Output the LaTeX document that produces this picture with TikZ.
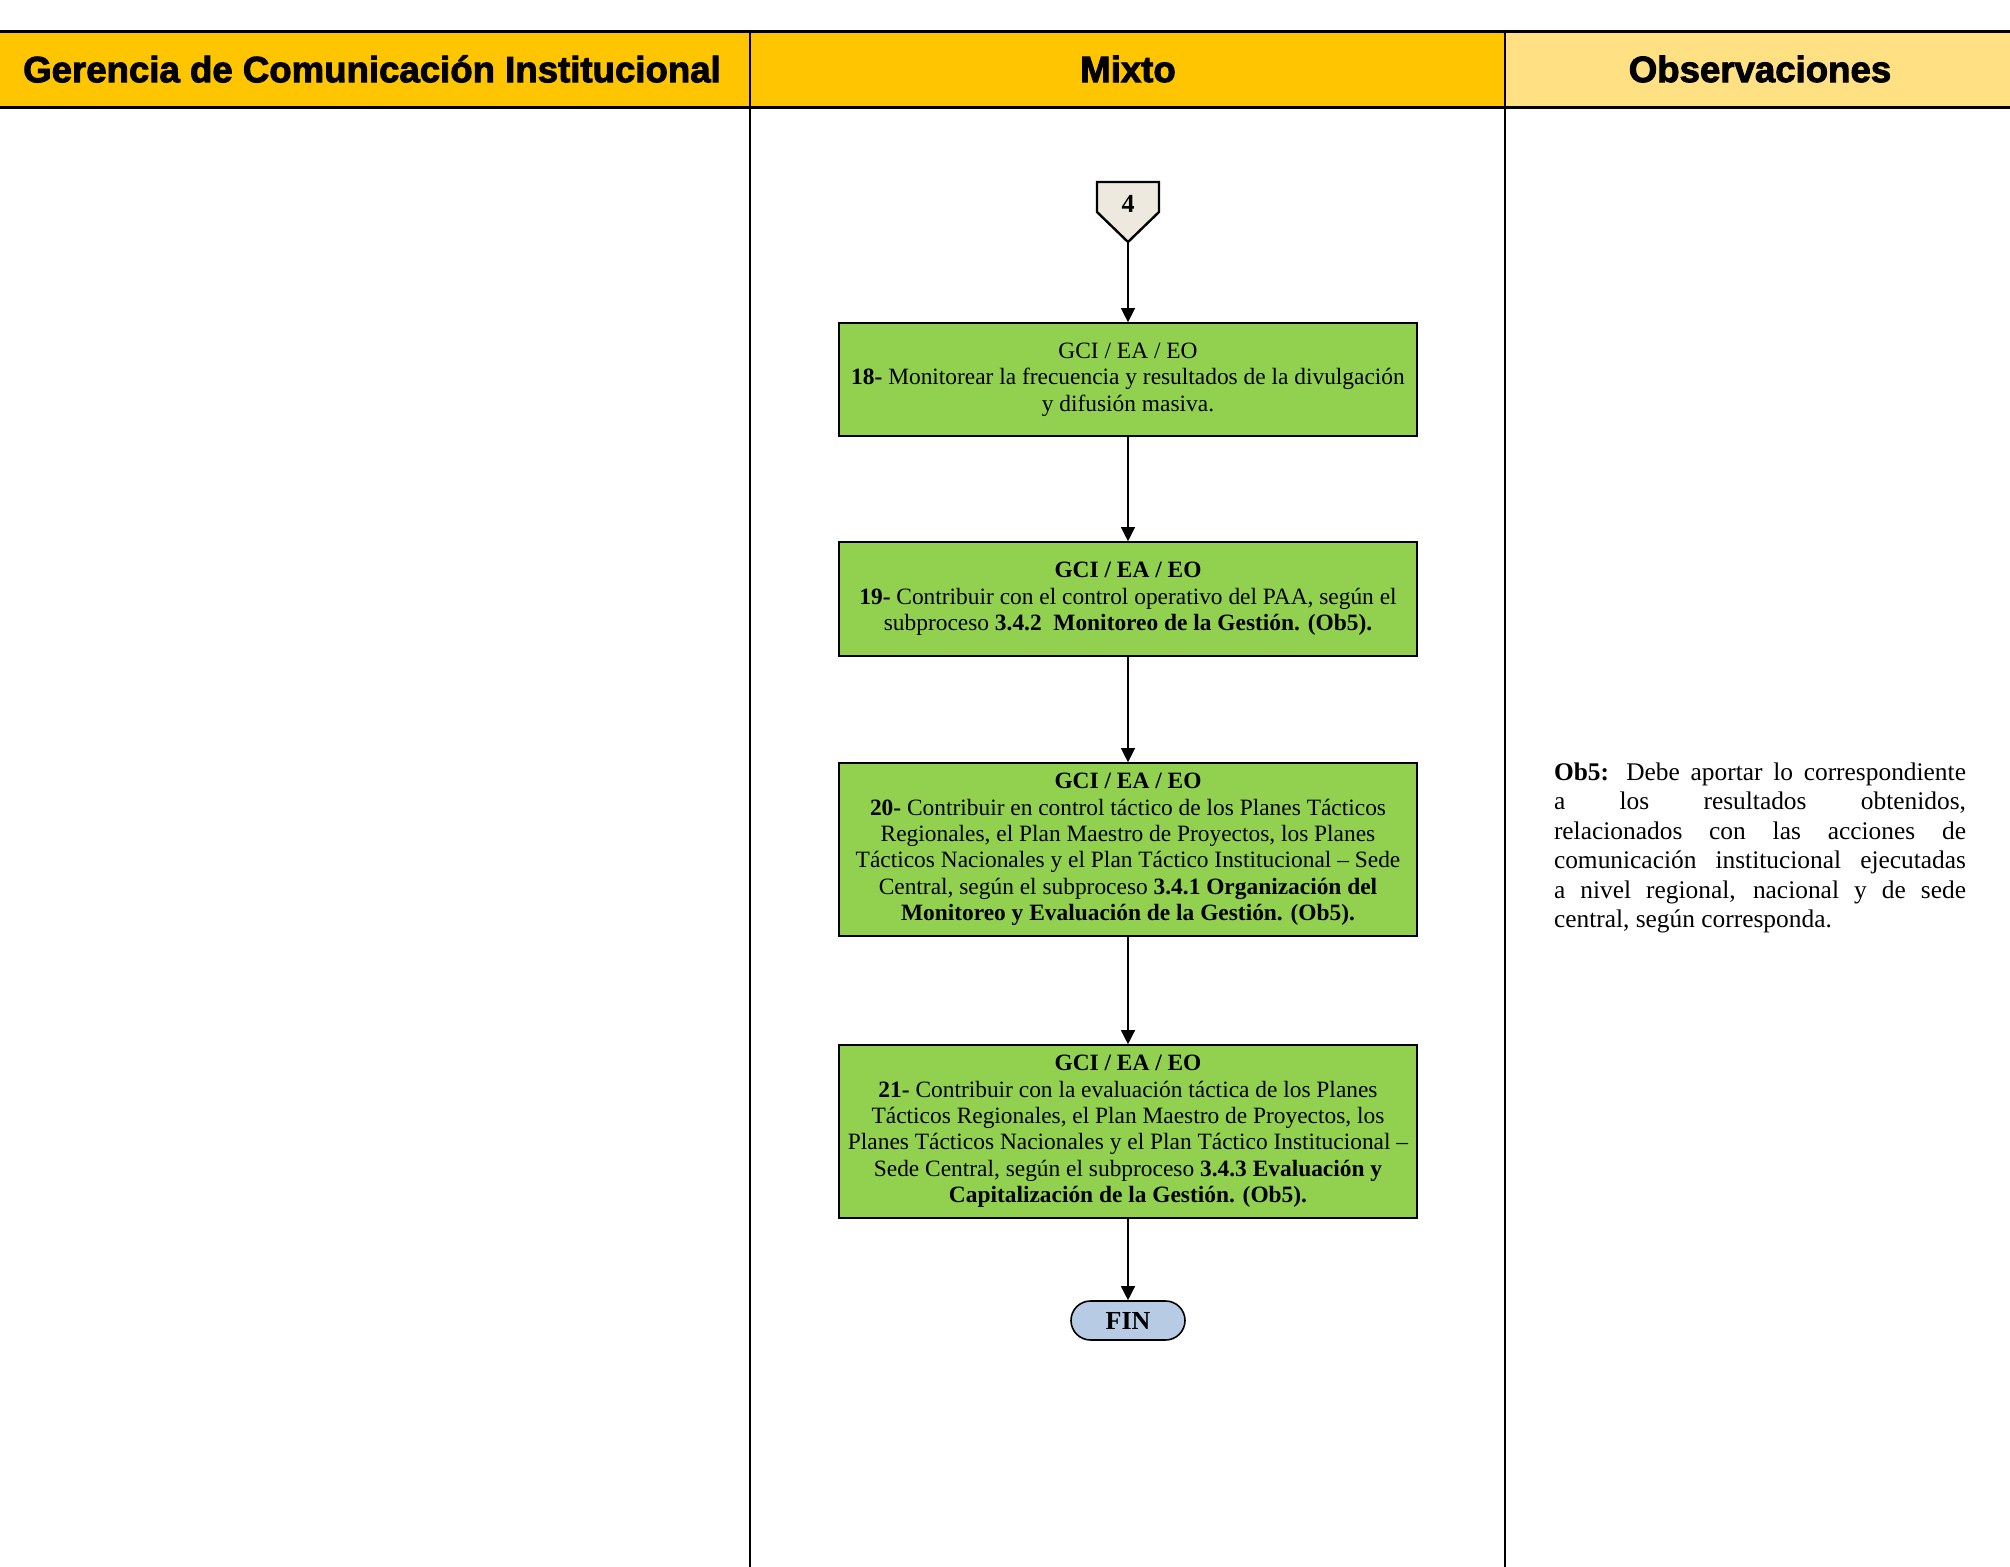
\documentclass[tikz,border=0pt]{standalone}
\usepackage{fontspec}
\setmainfont{Liberation Serif}
\newfontfamily\headfont[BoldFeatures={FakeBold=2.5}]{Liberation Sans}
\usetikzlibrary{arrows.meta}

\definecolor{laneyellow}{HTML}{FFC600}
\definecolor{obsyellow}{HTML}{FFE183}
\definecolor{actgreen}{HTML}{92D050}
\definecolor{connbeige}{HTML}{EEE9DE}
\definecolor{endblue}{HTML}{B7CCE4}

\tikzset{
  lanehead/.style={font=\headfont\bfseries\fontsize{18.3}{21}\selectfont},
  actbox/.style={draw=black,line width=0.8pt,fill=actgreen,minimum width=289pt,
    align=center,inner sep=0pt,font=\fontsize{11.7}{13.2}\selectfont},
  flow/.style={-{Triangle[length=7pt,width=7pt]},line width=0.6pt},
}

\begin{document}
\begin{tikzpicture}[x=0.5pt,y=-0.5pt]
  \useasboundingbox (0,0) rectangle (2010,1567);
  \pgfmathsetmacro\laneA{750}
  \pgfmathsetmacro\laneB{1505}
  \pgfmathsetmacro\midx{1128}
  % lane headers
  \fill[laneyellow] (0,32) rectangle (\laneB,108);
  \fill[obsyellow] (\laneB,32) rectangle (2010,108);
  \draw[line width=1.5pt] (0,32) -- (2010,32);
  \draw[line width=1.5pt] (0,108) -- (2010,108);
  \draw[line width=1.2pt] (\laneA,32) -- (\laneA,1567);
  \draw[line width=1.2pt] (\laneB,32) -- (\laneB,1567);
  \node[lanehead] (hgci) at (372,69) {Gerencia de Comunicación Institucional};
  \node[lanehead] (hmix) at (\midx,69) {Mixto};
  \node[lanehead] (hobs) at (1760,69) {Observaciones};
  % connector 4
  \filldraw[fill=connbeige,line width=1.2pt]
    (1097,182) -- (1159,182) -- (1159,212) -- (\midx,242) -- (1097,212) -- cycle;
  \node[font=\bfseries\fontsize{13}{15}\selectfont] (c4) at (\midx,204) {4};
  \coordinate (c4tip) at (\midx,242);
  % activities
  \node[actbox,minimum height=56.5pt] (t18) at (\midx,379.5)
    {GCI / EA / EO\\
     \textbf{18-} Monitorear la frecuencia y resultados de la divulgación\\
     y difusión masiva.};
  \node[actbox,minimum height=57pt] (t19) at (\midx,599)
    {\textbf{GCI / EA / EO}\\
     \textbf{19-} Contribuir con el control operativo del PAA, según el\\
     subproceso \textbf{3.4.2\ \ Monitoreo de la Gestión. (Ob5).}};
  \node[actbox,minimum height=86.5pt] (t20) at (\midx,849.5)
    {\textbf{GCI / EA / EO}\\
     \textbf{20-} Contribuir en control táctico de los Planes Tácticos\\
     Regionales, el Plan Maestro de Proyectos, los Planes\\
     Tácticos Nacionales y el Plan Táctico Institucional – Sede\\
     Central, según el subproceso \textbf{3.4.1 Organización del}\\
     \textbf{Monitoreo y Evaluación de la Gestión. (Ob5).}};
  \node[actbox,minimum height=86.5pt] (t21) at (\midx,1131.5)
    {\textbf{GCI / EA / EO}\\
     \textbf{21-} Contribuir con la evaluación táctica de los Planes\\
     Tácticos Regionales, el Plan Maestro de Proyectos, los\\
     Planes Tácticos Nacionales y el Plan Táctico Institucional –\\
     Sede Central, según el subproceso \textbf{3.4.3 Evaluación y}\\
     \textbf{Capitalización de la Gestión. (Ob5).}};
  \node[draw=black,line width=0.8pt,fill=endblue,rounded corners=9.75pt,
    minimum width=57pt,minimum height=19.5pt,inner sep=0pt,
    font=\bfseries\fontsize{13}{15}\selectfont] (fin) at (\midx,1320.5) {FIN};
  \draw[flow] (c4tip) -- (t18.north);
  \draw[flow] (t18.south) -- (t19.north);
  \draw[flow] (t19.south) -- (t20.north);
  \draw[flow] (t20.south) -- (t21.north);
  \draw[flow] (t21.south) -- (fin.north);
  % observation
  \node[align=left,inner sep=0pt,font=\fontsize{12.7}{14.75}\selectfont] (ob5) at (1760,848)
    {\makebox[206pt][s]{\textbf{Ob5:} Debe aportar lo correspondiente}\\
     \makebox[206pt][s]{a los resultados obtenidos,}\\
     \makebox[206pt][s]{relacionados con las acciones de}\\
     \makebox[206pt][s]{comunicación institucional ejecutadas}\\
     \makebox[206pt][s]{a nivel regional, nacional y de sede}\\
     central, según corresponda.};
\end{tikzpicture}
\end{document}
